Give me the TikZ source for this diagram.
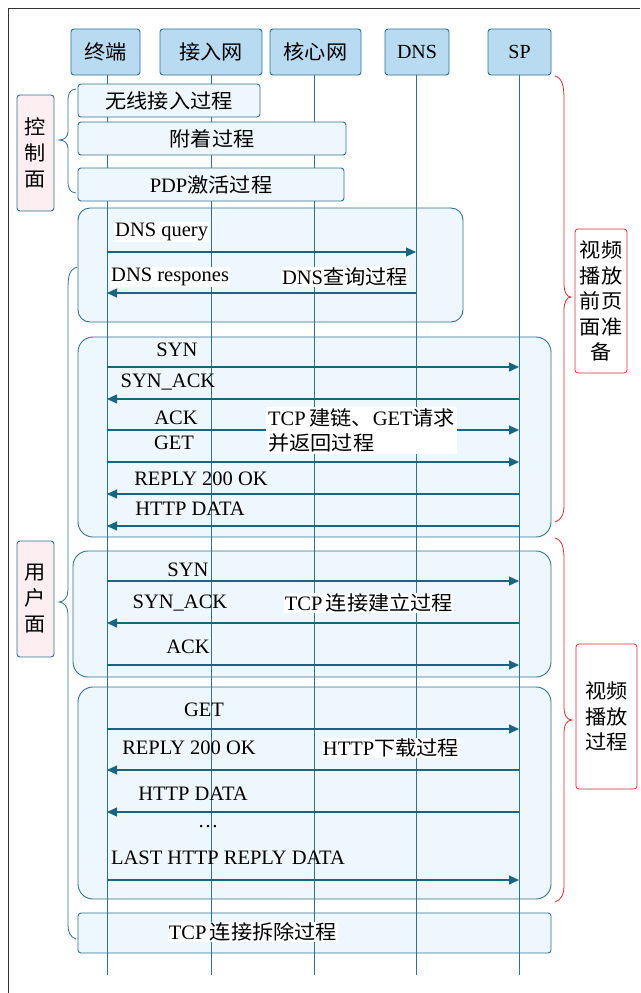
\documentclass[tikz,border=0pt]{standalone}
\usepackage{fontspec}
\setmainfont{Liberation Serif}
\newfontfamily\cjk[FakeStretch=1.06]{Noto Sans CJK SC}
\usetikzlibrary{arrows.meta}
\newcommand\zhs[1]{{\cjk\fontsize{20}{25}\selectfont #1}}
\definecolor{hdrfill}{HTML}{B9DBF1}
\definecolor{lline}{HTML}{2E7190}
\definecolor{boxfill}{HTML}{EEF7FD}
\definecolor{pinkfill}{HTML}{FCEEF1}
\definecolor{redl}{HTML}{E52A2F}
\definecolor{arrowc}{HTML}{17657F}
\definecolor{framec}{HTML}{333333}
\begin{document}
\begin{tikzpicture}[x=1pt,y=-1pt,
  txt/.style={font=\fontsize{20.5}{25}\selectfont, inner sep=1pt},
  wtxt/.style={txt, fill=white},
  hdr/.style={draw=lline, fill=hdrfill, rounded corners=3pt, line width=0.9pt, minimum height=46pt, inner sep=0pt, font=\fontsize{20}{25}\selectfont},
  grp/.style={draw=lline, fill=boxfill, line width=0.9pt, inner sep=0pt},
  ctl/.style={grp, rounded corners=3pt, minimum height=33pt, font=\fontsize{20.5}{25}\selectfont},
  side/.style={draw=lline, fill=pinkfill, rounded corners=3pt, line width=0.9pt, inner sep=0pt, minimum width=37pt, minimum height=116pt, align=center, font=\fontsize{20}{26}\selectfont},
  redbox/.style={draw=redl, fill=white, rounded corners=3pt, line width=0.8pt, inner sep=0pt, align=center, font=\fontsize{20}{25.5}\selectfont},
  life/.style={draw=lline, line width=1pt},
  msg/.style={draw=arrowc, line width=1.2pt, -{Triangle[length=10pt,width=9pt]}},
  brc/.style={draw=lline, line width=0.8pt},
  rbrc/.style={draw=redl, line width=0.8pt},
]
\useasboundingbox (0,0) rectangle (640,993);
\draw[framec, line width=1pt] (8,993) -- (8,8) -- (640,8);

% headers
\node[hdr, minimum width=69pt] (t1) at (105.5,52) {\zhs{终端}};
\node[hdr, minimum width=102pt] (t2) at (211,52) {\zhs{接入网}};
\node[hdr, minimum width=91pt] (t3) at (315.5,52) {\zhs{核心网}};
\node[hdr, minimum width=64pt] (t4) at (417,52) {DNS};
\node[hdr, minimum width=63pt] (t5) at (519.5,52) {SP};

% group boxes
\node[grp, rounded corners=12pt, minimum width=385pt, minimum height=114pt] (gdns) at (270.5,265) {};
\node[grp, rounded corners=15pt, minimum width=473pt, minimum height=200pt] (gtcp) at (314.5,437) {};
\node[grp, rounded corners=15pt, minimum width=478pt, minimum height=126pt] (gcon) at (312,614) {};
\node[grp, rounded corners=15pt, minimum width=473pt, minimum height=212pt] (ghttp) at (314.5,793) {};
\node[grp, rounded corners=3pt, minimum width=473pt, minimum height=40pt] (gcls) at (314.5,933) {};

% lifelines
\coordinate (b1) at (107,975);
\coordinate (b2) at (211,975);
\coordinate (b3) at (314,975);
\coordinate (b4) at (416,975);
\coordinate (b5) at (519,975);
\draw[life] (b1 |- t1.south) -- (b1);
\draw[life] (b2 |- t2.south) -- (b2);
\draw[life] (b3 |- t3.south) -- (b3);
\draw[life] (b4 |- t4.south) -- (b4);
\draw[life] (b5 |- t5.south) -- (b5);

% control plane boxes
\node[ctl, minimum width=182pt] (c1) at (169,100.5) {\zhs{无线接入过程}};
\node[ctl, minimum width=268pt] (c2) at (212,138.5) {\zhs{附着过程}};
\node[ctl, minimum width=266pt] (c3) at (211,184.5) {PDP\zhs{激活过程}};

% side boxes
\node[side] (sctl) at (35.5,153) {\zhs{控}\\\zhs{制}\\\zhs{面}};
\node[side] (susr) at (35.5,599) {\zhs{用}\\\zhs{户}\\\zhs{面}};
\node[redbox, minimum width=52pt, minimum height=144pt] (r1) at (601,301) {\zhs{视频}\\\zhs{播放}\\\zhs{前页}\\\zhs{面准}\\\zhs{备}};
\node[redbox, minimum width=61pt, minimum height=145pt] (r2) at (606.5,716.5) {\zhs{视频}\\\zhs{播放}\\\zhs{过程}};

% braces
\draw[brc] (76,89) .. controls (69,90) and (68,94) .. (68,102) -- (68,132) .. controls (68,137) and (64,140) .. (59,140) .. controls (64,140) and (68,143) .. (68,148) -- (68,180) .. controls (68,188) and (69,192) .. (76,193);
\draw[brc] (77,267) .. controls (69,270) and (68,276) .. (68,290) -- (68,590) .. controls (68,597) and (64,602) .. (59,602) .. controls (64,602) and (68,607) .. (68,614) -- (68,925) .. controls (68,932) and (70,937) .. (76,939);
\draw[rbrc] (555,76) .. controls (562,78) and (564,85) .. (564,100) -- (564,285) .. controls (564,292) and (567,297) .. (571,297) .. controls (567,297) and (564,302) .. (564,310) -- (564,505) .. controls (564,515) and (561,520) .. (555,522);
\draw[rbrc] (555,538) .. controls (562,540) and (564,547) .. (564,560) -- (564,708) .. controls (564,715) and (567,720) .. (572,720) .. controls (567,720) and (564,725) .. (564,732) -- (564,885) .. controls (564,895) and (561,900) .. (555,902);

% message endpoints
\foreach \n/\y in {m1/252,m2/293,m3/367,m4/399,m5/430,m6/462,m7/494,m8/526,m9/581,m10/623,m11/665,m12/729,m13/770,m14/812,m15/880}{
  \coordinate (\n a) at (107,\y);
  \coordinate (\n b) at (416,\y);
  \coordinate (\n c) at (519,\y);
}
\draw[msg] (m1a) -- (m1b);
\draw[msg] (m2b) -- (m2a);
\draw[msg] (m3a) -- (m3c);
\draw[msg] (m4c) -- (m4a);
\draw[msg] (m5a) -- (m5c);
\draw[msg] (m6a) -- (m6c);
\draw[msg] (m7c) -- (m7a);
\draw[msg] (m8c) -- (m8a);
\draw[msg] (m9a) -- (m9c);
\draw[msg] (m10c) -- (m10a);
\draw[msg] (m11a) -- (m11c);
\draw[msg] (m12a) -- (m12c);
\draw[msg] (m13c) -- (m13a);
\draw[msg] (m14c) -- (m14a);
\draw[msg] (m15a) -- (m15c);

% labels
\node[wtxt, anchor=west] (l1) at (114,232) {DNS query};
\node[wtxt, anchor=west] (l2) at (110,277) {DNS respones};
\node[wtxt] (l3) at (345,277) {DNS\zhs{查询过程}};
\node[txt] (l4) at (177,350) {SYN};
\node[txt] (l5) at (168,382) {SYN\_ACK};
\node[txt] (l6) at (176,418) {ACK};
\node[txt] (l7) at (174,443) {GET};
\node[txt] (l8) at (201,479) {REPLY 200 OK};
\node[txt] (l9) at (190,509) {HTTP DATA};
\node[wtxt, anchor=west, align=left, inner sep=2pt] (l10) at (266,430.5) {TCP\,\zhs{建链、}GET\zhs{请求}\\\zhs{并返回过程}};
\node[txt] (l11) at (188,570) {SYN};
\node[txt] (l12) at (180,603) {SYN\_ACK};
\node[wtxt] (l13) at (369,603) {TCP\,\zhs{连接建立过程}};
\node[txt] (l14) at (188,647) {ACK};
\node[txt] (l15) at (204,710) {GET};
\node[txt] (l16) at (189,748) {REPLY 200 OK};
\node[wtxt] (l17) at (391,748) {HTTP\zhs{下载过程}};
\node[txt] (l18) at (193,794) {HTTP DATA};
\node[txt] (l19) at (208,827) {\ldots};
\node[txt] (l20) at (228,858) {LAST HTTP REPLY DATA};
\node[wtxt] (l21) at (253,932) {TCP\,\zhs{连接拆除过程}};
\end{tikzpicture}
\end{document}
